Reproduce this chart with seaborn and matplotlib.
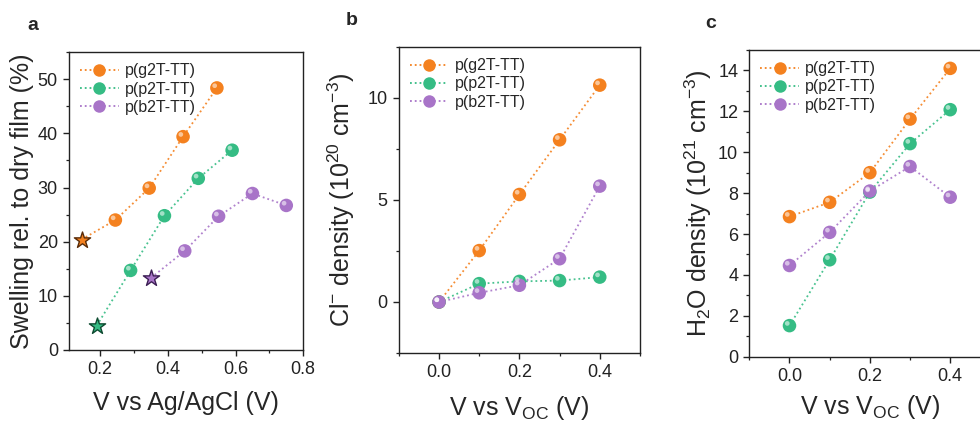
import numpy as np
import pandas as pd
import seaborn as sns
import matplotlib
matplotlib.use('Agg')
import matplotlib.pyplot as plt
import matplotlib.transforms as mtransforms
from matplotlib.lines import Line2D
from matplotlib.ticker import MultipleLocator

# Data
polymers = ["p(g2T-TT)", "p(p2T-TT)", "p(b2T-TT)"]

# panel a: swelling vs potential (first point of each series is a star)
swell_x_g2T = [0.145, 0.245, 0.345, 0.445, 0.545]
swell_y_g2T = [20.4, 24.0, 29.9, 39.4, 48.4]
swell_x_p2T = [0.19, 0.29, 0.39, 0.49, 0.59]
swell_y_p2T = [4.5, 14.7, 24.8, 31.7, 36.9]
swell_x_b2T = [0.35, 0.45, 0.55, 0.65, 0.75]
swell_y_b2T = [13.3, 18.3, 24.7, 28.9, 26.7]

# panel b / c: densities vs V_OC
voc = [0.0, 0.1, 0.2, 0.3, 0.4]
cl_g2T = [0.0, 2.52, 5.27, 7.95, 10.63]
cl_p2T = [0.0, 0.90, 1.01, 1.05, 1.22]
cl_b2T = [0.0, 0.45, 0.82, 2.12, 5.68]
h2o_g2T = [6.85, 7.55, 9.0, 11.62, 14.1]
h2o_p2T = [1.52, 4.74, 8.05, 10.42, 12.08]
h2o_b2T = [4.46, 6.08, 8.1, 9.3, 7.8]

colors = ["#F4811F", "#35BC84", "#A874C8"]
edge_dark = ["#5a2c08", "#0d4a30", "#3d1f55"]

sns.set_style("ticks")
plt.rcParams['font.family'] = ['Liberation Sans', 'DejaVu Sans']
plt.rcParams['mathtext.default'] = 'regular'


def sphere_points(ax, x, y, color, size=95):
    sns.scatterplot(x=x, y=y, ax=ax, color=color, s=size, edgecolor='none', zorder=4, legend=False)
    # little highlight to fake the shaded spheres
    shift = mtransforms.ScaledTranslation(-1.6 / 72, 1.6 / 72, ax.figure.dpi_scale_trans)
    ax.scatter(x, y, s=size * 0.12, color='white', alpha=0.55, edgecolor='none',
               zorder=5, transform=ax.transData + shift)


def series(ax, x, y, color, dark=None, star=False):
    sns.lineplot(x=x, y=y, ax=ax, color=color, linestyle=':', linewidth=1.3,
                 alpha=0.9, zorder=3, sort=False, estimator=None)
    if star:
        sphere_points(ax, x[1:], y[1:], color)
        ax.scatter(x[:1], y[:1], marker='*', s=150, color=color, edgecolor=dark,
                   linewidth=1.0, zorder=5)
    else:
        sphere_points(ax, x, y, color)


def style_axes(ax, label, label_x):
    for sp in ax.spines.values():
        sp.set_visible(True)
        sp.set_linewidth(1.0)
        sp.set_color('#222222')
    ax.tick_params(which='major', direction='out', length=4.5, width=1.0, labelsize=13,
                   top=False, right=False, colors='#222222')
    ax.tick_params(which='minor', direction='out', length=2.5, width=0.9,
                   top=False, right=False, colors='#222222')
    handles = [Line2D([0], [0], color=c, linestyle=':', linewidth=1.3, marker='o',
                      markersize=9, markerfacecolor=c, markeredgecolor='none')
               for c in colors]
    ax.legend(handles, polymers, loc='upper left', frameon=False, fontsize=11.5,
              handlelength=2.4, handletextpad=0.4, labelspacing=0.2,
              borderaxespad=0.3)
    ax.text(label_x, 1.06, label, transform=ax.transAxes, fontsize=14, fontweight='bold',
            ha='center', va='bottom')


fig = plt.figure(figsize=(9.8, 4.23), dpi=100)
ax_a = fig.add_axes([0.0704, 0.1726, 0.239, 0.704])
ax_b = fig.add_axes([0.407, 0.1655, 0.246, 0.7234])
ax_c = fig.add_axes([0.7646, 0.1567, 0.246, 0.7252])

# panel a
series(ax_a, swell_x_g2T, swell_y_g2T, colors[0], edge_dark[0], star=True)
series(ax_a, swell_x_p2T, swell_y_p2T, colors[1], edge_dark[1], star=True)
series(ax_a, swell_x_b2T, swell_y_b2T, colors[2], edge_dark[2], star=True)
ax_a.set_xlim(0.108, 0.8)
ax_a.set_ylim(0, 55)
ax_a.xaxis.set_major_locator(MultipleLocator(0.2))
ax_a.xaxis.set_minor_locator(MultipleLocator(0.1))
ax_a.yaxis.set_major_locator(MultipleLocator(10))
ax_a.yaxis.set_minor_locator(MultipleLocator(5))
ax_a.set_xlabel("V vs Ag/AgCl (V)", fontsize=18, labelpad=9)
ax_a.set_ylabel("Swelling rel. to dry film (%)", fontsize=18, labelpad=3)
style_axes(ax_a, "a", -0.155)

# panel b
series(ax_b, voc, cl_g2T, colors[0])
series(ax_b, voc, cl_p2T, colors[1])
series(ax_b, voc, cl_b2T, colors[2])
ax_b.set_xlim(-0.1, 0.5)
ax_b.set_ylim(-2.5, 12.5)
ax_b.xaxis.set_major_locator(MultipleLocator(0.2))
ax_b.xaxis.set_minor_locator(MultipleLocator(0.1))
ax_b.yaxis.set_major_locator(MultipleLocator(5))
ax_b.yaxis.set_minor_locator(MultipleLocator(2.5))
ax_b.set_xlabel("V vs V$_{OC}$ (V)", fontsize=18, labelpad=9)
ax_b.set_ylabel("Cl$^{-}$ density (10$^{20}$ cm$^{-3}$)", fontsize=18, labelpad=8)
style_axes(ax_b, "b", -0.195)

# panel c
series(ax_c, voc, h2o_g2T, colors[0])
series(ax_c, voc, h2o_p2T, colors[1])
series(ax_c, voc, h2o_b2T, colors[2])
ax_c.set_xlim(-0.1, 0.5)
ax_c.set_ylim(0, 15)
ax_c.xaxis.set_major_locator(MultipleLocator(0.2))
ax_c.xaxis.set_minor_locator(MultipleLocator(0.1))
ax_c.yaxis.set_major_locator(MultipleLocator(2))
ax_c.yaxis.set_minor_locator(MultipleLocator(1))
ax_c.set_xlabel("V vs V$_{OC}$ (V)", fontsize=18, labelpad=6)
ax_c.set_ylabel("H$_2$O density (10$^{21}$ cm$^{-3}$)", fontsize=18, labelpad=3)
style_axes(ax_c, "c", -0.16)

fig.savefig("out.png", dpi=100)
plt.close(fig)
